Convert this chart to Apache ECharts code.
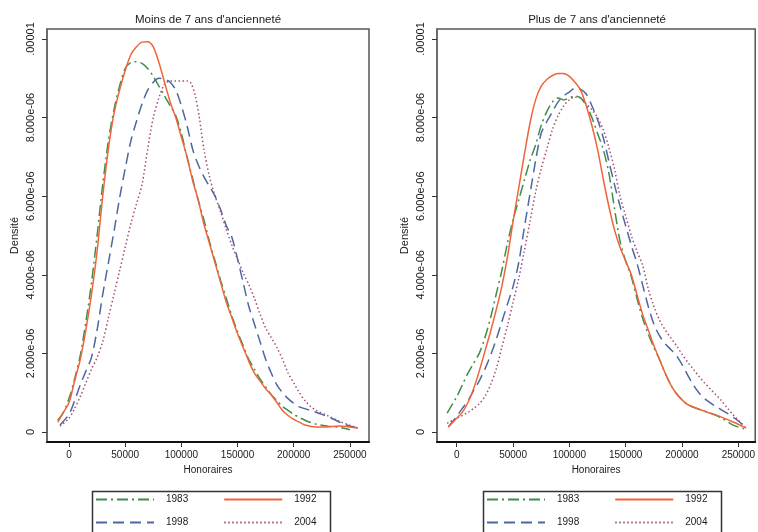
<!DOCTYPE html>
<html><head><meta charset="utf-8">
<script src="https://cdn.jsdelivr.net/npm/echarts@6/dist/echarts.min.js"></script>
<style>html,body{margin:0;padding:0;background:#fff}#c{width:758px;height:532px}</style>
</head><body><div id="c"></div>
<script>
const panelTitles = ["Moins de 7 ans d'ancienneté", "Plus de 7 ans d'ancienneté"];
const seriesNames = ['1983', '1992', '1998', '2004'];
const xTicks = [0, 50000, 100000, 150000, 200000, 250000];
const xTickLabels = ['0', '50000', '100000', '150000', '200000', '250000'];
const yTicks = [0, 2, 4, 6, 8, 10]; // density in units of 1e-6
const yTickLabels = ['0', '2.000e-06', '4.000e-06', '6.000e-06', '8.000e-06', '.00001'];
const xAxisTitle = 'Honoraires';
const yAxisTitle = 'Densité';

// Left panel: Moins de 7 ans (x = honoraires, y = densité x 1e-6)
const left1983 = [[-10000,0.3],[-5000,0.5],[0,0.85],[5000,1.35],[10000,1.95],[15000,2.8],[20000,3.8],[25000,5.0],[30000,6.3],[35000,7.4],[40000,8.2],[45000,8.8],[50000,9.25],[55000,9.4],[60000,9.42],[65000,9.38],[70000,9.25],[75000,9.05],[80000,8.8],[85000,8.55],[90000,8.3],[95000,8.05],[100000,7.6],[105000,7.0],[110000,6.45],[115000,5.9],[120000,5.4],[125000,4.85],[130000,4.35],[135000,3.85],[140000,3.4],[145000,2.95],[150000,2.55],[155000,2.2],[160000,1.85],[165000,1.6],[170000,1.35],[175000,1.15],[180000,0.95],[185000,0.8],[190000,0.65],[195000,0.55],[200000,0.45],[210000,0.3],[220000,0.2],[230000,0.15],[240000,0.12],[250000,0.06]];
const left1992 = [[-10000,0.25],[-5000,0.5],[0,0.75],[5000,1.3],[10000,1.85],[15000,2.6],[20000,3.5],[25000,4.6],[30000,6.0],[35000,7.2],[40000,8.1],[45000,8.7],[50000,9.2],[55000,9.6],[60000,9.8],[65000,9.92],[70000,9.93],[75000,9.8],[80000,9.4],[85000,8.9],[90000,8.4],[95000,8.0],[100000,7.5],[105000,7.0],[110000,6.4],[115000,5.9],[120000,5.3],[125000,4.8],[130000,4.3],[135000,3.8],[140000,3.3],[145000,2.9],[150000,2.5],[155000,2.15],[160000,1.8],[165000,1.5],[170000,1.3],[175000,1.1],[180000,0.95],[185000,0.75],[190000,0.55],[195000,0.42],[200000,0.32],[205000,0.25],[210000,0.18],[220000,0.13],[230000,0.13],[240000,0.15],[250000,0.13],[257000,0.1]];
const left1998 = [[-8000,0.18],[0,0.45],[5000,0.8],[10000,1.2],[15000,1.55],[20000,1.9],[25000,2.6],[30000,3.5],[35000,4.3],[40000,5.1],[45000,5.95],[50000,6.7],[55000,7.4],[60000,7.9],[65000,8.35],[70000,8.7],[75000,8.9],[80000,9.0],[85000,8.98],[90000,8.9],[95000,8.7],[100000,8.3],[105000,7.8],[110000,7.2],[115000,6.8],[120000,6.5],[125000,6.25],[130000,6.0],[135000,5.65],[140000,5.25],[145000,4.95],[150000,4.4],[155000,3.8],[160000,3.2],[165000,2.75],[170000,2.3],[175000,1.85],[180000,1.5],[185000,1.2],[190000,1.0],[195000,0.85],[200000,0.73],[205000,0.64],[215000,0.55],[225000,0.45],[235000,0.33],[245000,0.2],[257000,0.1]];
const left2004 = [[-8000,0.15],[0,0.35],[5000,0.6],[10000,0.9],[15000,1.25],[20000,1.6],[25000,1.9],[30000,2.3],[35000,2.9],[40000,3.5],[45000,4.1],[50000,4.7],[55000,5.3],[60000,5.8],[65000,6.3],[70000,7.2],[75000,8.0],[80000,8.5],[85000,8.85],[90000,8.93],[95000,8.93],[100000,8.93],[105000,8.93],[108000,8.9],[112000,8.6],[116000,8.0],[120000,7.2],[125000,6.5],[130000,6.0],[135000,5.6],[140000,5.15],[145000,4.75],[150000,4.4],[155000,4.05],[160000,3.75],[165000,3.4],[170000,3.0],[175000,2.65],[180000,2.4],[185000,2.15],[190000,1.85],[195000,1.5],[200000,1.25],[205000,1.0],[210000,0.8],[215000,0.65],[220000,0.55],[230000,0.42],[240000,0.28],[250000,0.17],[257000,0.1]];

// Right panel: Plus de 7 ans
const right1983 = [[-8500,0.48],[0,0.9],[5000,1.2],[10000,1.5],[15000,1.75],[20000,2.0],[25000,2.4],[30000,2.9],[35000,3.5],[40000,4.1],[45000,4.8],[50000,5.4],[55000,5.9],[60000,6.4],[65000,6.9],[70000,7.3],[75000,7.8],[80000,8.15],[85000,8.4],[90000,8.5],[95000,8.45],[100000,8.5],[105000,8.55],[110000,8.5],[115000,8.3],[120000,8.0],[125000,7.6],[130000,7.2],[135000,6.6],[140000,5.7],[145000,4.85],[150000,4.35],[155000,3.95],[160000,3.4],[165000,2.9],[170000,2.5],[175000,2.15],[180000,1.85],[185000,1.5],[190000,1.2],[195000,0.98],[200000,0.82],[205000,0.7],[215000,0.58],[225000,0.48],[235000,0.36],[245000,0.18],[255000,0.08]];
const right1992 = [[-7500,0.13],[0,0.35],[5000,0.5],[10000,0.75],[15000,1.1],[20000,1.55],[25000,2.05],[30000,2.55],[35000,3.1],[40000,3.7],[45000,4.45],[50000,5.35],[55000,6.2],[60000,7.05],[65000,7.85],[70000,8.45],[75000,8.8],[80000,8.97],[85000,9.07],[90000,9.12],[95000,9.12],[100000,9.05],[105000,8.9],[110000,8.7],[115000,8.3],[120000,7.8],[125000,7.2],[130000,6.45],[135000,5.75],[140000,5.15],[145000,4.7],[150000,4.35],[155000,4.0],[160000,3.5],[165000,3.0],[170000,2.6],[175000,2.2],[180000,1.85],[185000,1.5],[190000,1.2],[195000,0.98],[200000,0.82],[205000,0.7],[215000,0.58],[225000,0.48],[235000,0.38],[245000,0.26],[257000,0.1]];
const right1998 = [[-7500,0.13],[0,0.4],[5000,0.6],[10000,0.8],[15000,1.05],[20000,1.3],[25000,1.6],[30000,1.95],[35000,2.35],[40000,2.8],[45000,3.25],[50000,3.7],[55000,4.3],[60000,5.2],[65000,6.05],[70000,6.9],[75000,7.6],[80000,7.9],[85000,8.15],[90000,8.4],[95000,8.55],[100000,8.65],[105000,8.75],[110000,8.72],[115000,8.6],[120000,8.3],[125000,7.95],[130000,7.5],[135000,6.9],[140000,6.3],[145000,5.75],[150000,5.25],[155000,4.75],[160000,4.3],[165000,3.75],[170000,3.2],[175000,2.75],[180000,2.45],[185000,2.25],[190000,2.1],[195000,1.95],[200000,1.72],[205000,1.45],[210000,1.2],[215000,1.0],[220000,0.85],[230000,0.65],[240000,0.48],[250000,0.28],[256000,0.13]];
const right2004 = [[-8500,0.22],[0,0.35],[5000,0.42],[10000,0.5],[15000,0.6],[20000,0.72],[25000,0.9],[30000,1.2],[35000,1.6],[40000,2.15],[45000,2.7],[50000,3.3],[55000,3.9],[60000,4.6],[65000,5.35],[70000,6.1],[75000,6.7],[80000,7.2],[85000,7.7],[90000,8.05],[95000,8.3],[100000,8.45],[105000,8.52],[110000,8.5],[115000,8.35],[120000,8.2],[125000,8.0],[130000,7.7],[135000,7.25],[140000,6.7],[145000,6.0],[150000,5.5],[155000,5.0],[160000,4.6],[165000,4.25],[170000,3.65],[175000,3.2],[180000,2.85],[185000,2.6],[190000,2.4],[195000,2.2],[200000,1.98],[205000,1.78],[210000,1.6],[215000,1.42],[220000,1.25],[225000,1.1],[230000,0.95],[235000,0.8],[240000,0.62],[245000,0.45],[250000,0.3],[256000,0.13]];

const panels = [
  { '1983': left1983, '1992': left1992, '1998': left1998, '2004': left2004 },
  { '1983': right1983, '1992': right1992, '1998': right1998, '2004': right2004 }
];

const colors = { '1983': '#3f8d4a', '1992': '#f0643a', '1998': '#4d67a0', '2004': '#a34c74' };
const dashes = { '1983': [11, 4, 2, 4], '1992': 'solid', '1998': [11, 6], '2004': [1.5, 2.5] };

const narrow = '"Liberation Sans Narrow", "Liberation Sans", Arial, sans-serif';
const regular = '"Liberation Sans", Arial, sans-serif';
const txt = '#1a1a1a';

const grids = [
  { left: 47, top: 29, width: 322, height: 413, xmin: -19600, xmax: 267000 },
  { left: 437, top: 29, width: 320, height: 413, xmin: -17500, xmax: 265000 }
];

function lookup(ticks, labels, v) {
  for (let i = 0; i < ticks.length; i++) if (Math.abs(ticks[i] - v) < 1e-6 * Math.max(1, Math.abs(ticks[i]))) return labels[i];
  return '';
}

const option = {
  animation: false,
  backgroundColor: '#fff',
  title: grids.map((g, i) => ({
    text: panelTitles[i], left: g.left + g.width / 2, top: 14, textAlign: 'center', padding: 0,
    textStyle: { fontFamily: narrow, fontSize: 11.5, fontWeight: 'normal', color: txt }
  })),
  grid: grids.map(g => ({ left: g.left, top: g.top, width: g.width, height: g.height, show: true, borderColor: '#555', borderWidth: 1.5, backgroundColor: 'transparent' })),
  xAxis: grids.map((g, i) => ({
    type: 'value', gridIndex: i, min: g.xmin, max: g.xmax,
    name: xAxisTitle, nameLocation: 'middle', nameGap: 20,
    nameTextStyle: { fontFamily: narrow, fontSize: 10, color: txt },
    axisLine: { show: true, onZero: false, lineStyle: { color: '#111', width: 2 } },
    axisTick: { show: true, length: 5, customValues: xTicks, lineStyle: { color: '#333', width: 1 } },
    axisLabel: { customValues: xTicks, margin: 8, fontFamily: narrow, fontSize: 10, color: txt,
      formatter: v => lookup(xTicks, xTickLabels, v) },
    splitLine: { show: false }
  })),
  yAxis: grids.map((g, i) => ({
    type: 'value', gridIndex: i, min: -0.254, max: 10.254,
    name: yAxisTitle, nameLocation: 'middle', nameGap: 27, nameRotate: 90,
    nameTextStyle: { fontFamily: regular, fontSize: 11, color: txt },
    axisLine: { show: true, onZero: false, lineStyle: { color: '#666', width: 1.5 } },
    axisTick: { show: true, length: 5, customValues: yTicks, lineStyle: { color: '#333', width: 1 } },
    axisLabel: { customValues: yTicks, rotate: 90, margin: 11, fontFamily: regular, fontSize: 11, color: txt,
      formatter: v => lookup(yTicks, yTickLabels, v) },
    splitLine: { show: false }
  })),
  legend: [],
  graphic: [],
  series: []
};

const legendBoxLeft = [90, 481];
panels.forEach((p, pi) => {
  seriesNames.forEach(name => {
    option.series.push({
      type: 'line', name: name, xAxisIndex: pi, yAxisIndex: pi,
      data: p[name], smooth: 0.3, symbol: 'none', showSymbol: false,
      lineStyle: { color: colors[name], width: 1.5, type: dashes[name] },
      itemStyle: { color: colors[name] },
      z: name === '1992' ? 3 : 2
    });
  });
  const rows = [[seriesNames[0], seriesNames[1]], [seriesNames[2], seriesNames[3]]];
  rows.forEach((r, ri) => {
    option.legend.push({
      data: r, left: legendBoxLeft[pi] + 5, top: 494 + ri * 23, orient: 'horizontal',
      itemWidth: 58, itemHeight: 14, itemGap: 35, selectedMode: false, padding: 0,
      itemStyle: { opacity: 0 },
      textStyle: { fontFamily: narrow, fontSize: 10, color: txt, padding: [0, 0, 0, 7] }
    });
  });
  option.graphic.push({
    type: 'rect', left: legendBoxLeft[pi], top: 489,
    shape: { width: 238, height: 60 },
    style: { fill: 'none', stroke: '#333', lineWidth: 1.5 }, silent: true
  });
});

const chart = echarts.init(document.getElementById('c'), null, { renderer: 'canvas' });
chart.setOption(option);
</script>
</body></html>
